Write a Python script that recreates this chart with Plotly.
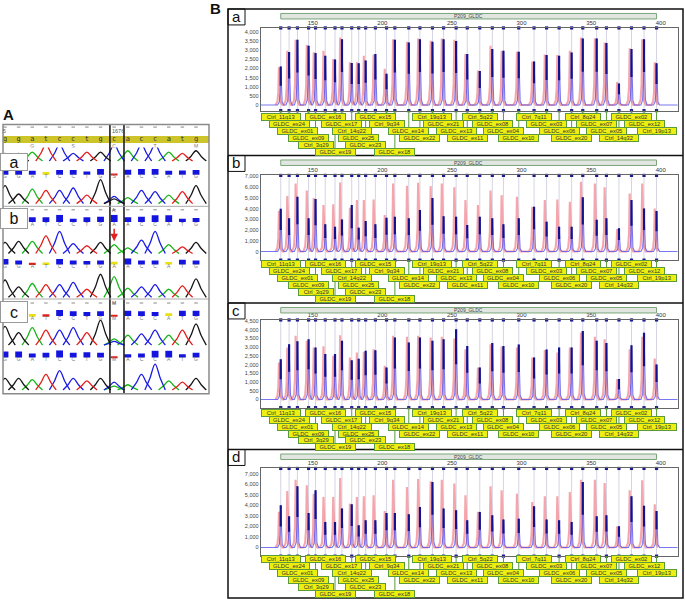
import plotly.graph_objects as go

W, H = 685, 603

# ---------------------------------------------------------------
# B: MLPA runs with probemix P209 GLDC (red = reference, blue = sample)
# ---------------------------------------------------------------
kit_name = "P209_GLDC"
probe_names = [
    "Ctrl_11q13", "GLDC_ex24", "GLDC_ex01", "GLDC_ex09", "Ctrl_3q29",
    "GLDC_ex16", "GLDC_ex19", "GLDC_ex17", "Ctrl_14q22", "GLDC_ex25",
    "GLDC_ex23", "GLDC_ex15", "Ctrl_9q34", "GLDC_ex18", "GLDC_ex14",
    "GLDC_ex22", "Ctrl_19q13", "GLDC_ex21", "GLDC_ex13", "GLDC_ex11",
    "Ctrl_5q22", "GLDC_ex08", "GLDC_ex04", "GLDC_ex10", "Ctrl_7q11",
    "GLDC_ex03", "GLDC_ex06", "GLDC_ex20", "Ctrl_8q24", "GLDC_ex07",
    "GLDC_ex05", "Ctrl_14q32", "GLDC_ex02", "GLDC_ex12", "Ctrl_19p13",
]
probe_size = [127, 133, 139, 147, 152, 159, 166, 171, 178, 183,
              188, 195, 203, 209, 219, 227, 236, 244, 253, 261,
              270, 279, 287, 298, 309, 318, 327, 336, 344, 354,
              361, 370, 379, 388, 397]
size_ticks = [150, 200, 250, 300, 350, 400]

ref_a = [2070, 2970, 3570, 3280, 2880, 2970, 2520, 3690, 2340, 2340, 2700, 2760, 1980, 3600, 3460, 3640, 3510, 3640,
         3570, 2790, 1890, 3240, 2970, 2920, 2380, 2760, 2740, 2970, 3690, 3640, 3420, 1260, 3100, 3600, 2340]
smp_a = [2100, 2900, 3570, 3240, 2850, 2700, 2490, 3600, 2300, 2290, 2430, 2790, 1710, 3570, 3420, 3600, 3460, 3600,
         3510, 2790, 1860, 3060, 2970, 2920, 2380, 2740, 2700, 2880, 3640, 3640, 3390, 1170, 3060, 3600, 2290]
ref_b = [3800, 5190, 6350, 5700, 5000, 4330, 4400, 6440, 4090, 4800, 4800, 4860, 3400, 6350, 6130, 6410, 6100, 6350,
         6000, 4800, 4330, 5700, 5260, 5110, 4180, 4800, 4860, 4640, 6500, 6350, 6000, 2100, 5420, 6350, 4020]
smp_b = [4000, 3100, 5110, 3100, 4900, 2540, 2320, 3000, 4330, 2230, 2850, 2540, 3150, 3250, 3100, 3870, 5000, 3300,
         3250, 2480, 3250, 3100, 2540, 3100, 4180, 2790, 2320, 2320, 5060, 2970, 3100, 2170, 4800, 4020, 3780]
ref_c = [2120, 2980, 3650, 3360, 2980, 3050, 2500, 3680, 2400, 2690, 2730, 2880, 1930, 3650, 3590, 3650, 3550, 3600,
         3490, 2880, 1830, 3170, 3030, 2980, 2400, 2840, 2690, 2980, 3840, 3600, 3450, 1170, 2880, 3600, 2350]
smp_c = [2310, 3170, 3340, 3450, 2980, 2600, 2600, 3360, 2250, 2330, 2790, 2820, 1830, 3550, 3270, 3550, 3360, 3450,
         4030, 3070, 1830, 3240, 3070, 3150, 2400, 2860, 2980, 2980, 3930, 3360, 3240, 1170, 3110, 3820, 2000]
ref_d = [3380, 5360, 6430, 5900, 5110, 4800, 4800, 6590, 4160, 4800, 4860, 4950, 3470, 6430, 5740, 6500, 6280, 6430,
         6060, 4950, 3380, 5800, 5430, 5110, 4320, 4860, 4860, 5270, 6430, 6430, 6120, 2020, 5430, 6370, 4100]
smp_d = [4000, 2970, 5800, 3280, 5430, 2430, 2430, 3690, 4100, 2110, 2590, 2590, 3280, 3280, 3150, 3850, 6210, 3690,
         3530, 2590, 3380, 3060, 2650, 2740, 3910, 2650, 2590, 2430, 6210, 2970, 3060, 2020, 4860, 3970, 3470]

# ---------------------------------------------------------------
# A: Sanger traces around c.1676
# ---------------------------------------------------------------
ref_seq = "ggatcctgcaccatg"
amino_pos = [2, 5, 8, 11, 14]
amino_acids = ["G", "S", "C", "T", "M"]
trace_calls = ["GGATCCTGCACCATG", "GGATCCTGCACCATG", "GGATCCTGAACCATG",
               "GGATCCTGAACCATG", "GGATCCTGAACCATG", "GGATCCTGCACCATG"]
trace_heights = [
    [0.6, 0.6, 0.7, 1.3, 1.3, 0.6, 0.7, 0.7, 1.3, 0.8, 1.3, 1.3, 0.7, 0.6, 0.8],
    [0.75, 0.4, 0.6, 0.55, 0.55, 0.65, 0.35, 1.0, 0.3, 0.25, 0.55, 0.5, 0.35, 0.5, 0.75],
    [0.5, 0.55, 0.55, 0.8, 1.0, 0.45, 0.35, 0.5, 0.4, 0.25, 0.6, 1.0, 0.4, 0.3, 0.5],
    [0.75, 0.45, 0.6, 0.55, 0.55, 0.65, 0.35, 1.0, 0.9, 0.4, 0.45, 0.55, 0.35, 0.5, 0.8],
    [0.75, 0.5, 0.7, 0.6, 0.6, 0.7, 0.5, 1.0, 0.25, 0.4, 0.45, 0.6, 0.4, 0.6, 0.85],
    [0.45, 0.45, 0.4, 0.6, 0.75, 0.45, 0.35, 0.45, 0.3, 0.2, 0.6, 1.0, 0.35, 0.3, 0.45],
]
trace_extra = [[], [(8, "G", 0.2)], [], [], [(8, "C", 0.15)], [(8, "A", 0.15)]]
call_text = ["GGATCCTGSACCATG", "GGATCCTGAACCATG", "GGATCCTGAACCATG",
             "GGATCCTGMACCATG", "GGATCCTGMACCATG"]
call_quality = [
    [12, 12, 12, 8, 14, 14, 10, 17, 4, 15, 17, 17, 12, 13, 14],
    [14, 14, 14, 14, 22, 10, 14, 16, 22, 14, 16, 20, 20, 10, 12],
    [16, 12, 5, 6, 16, 12, 10, 12, 8, 18, 12, 12, 7, 14, 12],
    [14, 14, 6, 5, 18, 14, 12, 14, 2, 16, 14, 12, 8, 16, 16],
    [18, 18, 12, 14, 22, 14, 16, 14, 2, 10, 12, 20, 20, 10, 14],
]


def fy(p):
    return 1 - p / H


def dom_y(top, bottom):
    return [1 - bottom / H, 1 - top / H]


def text_note(text, x, y, xref="paper", size=6, color="#444", **kw):
    d = dict(text=text, x=x, xref=xref, y=y, yref="paper", showarrow=False,
             xanchor="center", yanchor="middle", font=dict(size=size, color=color))
    d.update(kw)
    return d


def label_width(name):
    w = 3
    for ch in name:
        if ch.isupper():
            w += 4.8
        elif ch.isdigit():
            w += 3.2
        else:
            w += 3.4
    return w


fig = go.Figure()
lay = dict(width=W, height=H, margin=dict(l=0, r=0, t=0, b=0),
           paper_bgcolor="white", plot_bgcolor="white", showlegend=False,
           font=dict(family="Liberation Sans, Arial", color="#222"))
shapes, annots = [], []

# ---------------- panel A ----------------
cols = list(range(15))
lay["xaxis"] = dict(domain=[3 / W, 209 / W], range=[-0.147, 14.95], visible=False, anchor="y")
lay["yaxis"] = dict(domain=dom_y(123, 393), range=[393, 123], visible=False, anchor="x")

strip_px = [(146, 160), (177, 203), (229, 253), (272, 297), (318, 345), (362, 390)]
bar_px = [173.3, 220.7, 263.3, 315, 356.7]
hidden_cols = [0, 2, 0, 2, 0]   # first columns of a call row sitting under the a/b/c boxes
base_color = {"A": "#18b418", "C": "#1c1ce6", "G": "#151515", "T": "#e51c1c"}
chrom_dx = [-0.75, -0.38, 0, 0.38, 0.75]
chrom_fy = [0, 0.45, 1, 0.45, 0]

for i in range(6):
    lay[f"yaxis{i + 2}"] = dict(domain=dom_y(*strip_px[i]), range=[-0.03, 1.05],
                               visible=False, anchor="x")
    peaks = [(k, b, h) for k, (b, h) in enumerate(zip(trace_calls[i], trace_heights[i]))] + trace_extra[i]
    for base, colr in base_color.items():
        xs, ys = [], []
        for k, b, h in peaks:
            if b != base:
                continue
            xs += [k + d for d in chrom_dx] + [None]
            ys += [h * f for f in chrom_fy] + [None]
        fig.add_trace(go.Scatter(x=xs, y=ys, mode="lines", xaxis="x", yaxis=f"y{i + 2}",
                                 line=dict(color=colr, width=1.3, shape="spline"),
                                 hoverinfo="skip"))


def qual_color(q):
    if q <= 5:
        return "#e0201c"
    if q <= 8:
        return "#e8e010"
    return "#1414e0"


for i in range(5):
    b = bar_px[i]
    lay[f"yaxis{i + 8}"] = dict(domain=dom_y(b - 22 / 3, b + 4), range=[-12, 22],
                               visible=False, anchor="x")
    fig.add_trace(go.Bar(x=cols, y=call_quality[i], width=0.5, xaxis="x", yaxis=f"y{i + 8}",
                         marker=dict(color=[qual_color(q) for q in call_quality[i]], line_width=0),
                         hoverinfo="skip"))
    n0 = hidden_cols[i]
    fig.add_trace(go.Scatter(x=cols[n0:], y=[-7] * (15 - n0), text=list(call_text[i])[n0:], mode="text",
                             xaxis="x", yaxis=f"y{i + 8}", cliponaxis=False,
                             textfont=dict(size=5, color="#777"), hoverinfo="skip"))

# ruler dots, reference band, amino acids
for yy in (125.5, 208.5, 302):
    fig.add_trace(go.Scatter(x=cols, y=[yy] * 15, mode="markers", xaxis="x", yaxis="y",
                             marker=dict(symbol="line-ew", size=2.5, line=dict(width=1, color="#888")),
                             hoverinfo="skip"))
shapes.append(dict(type="rect", xref="paper", yref="paper", x0=3 / W, x1=209 / W,
                   y0=fy(141.5), y1=fy(134.5), fillcolor="#cdc42a", line_width=0, layer="below"))
fig.add_trace(go.Scatter(x=cols, y=[138.2] * 15, text=list(ref_seq), mode="text", xaxis="x", yaxis="y",
                         textfont=dict(size=7, color="#333", family="DejaVu Sans Mono"),
                         cliponaxis=False, hoverinfo="skip"))
fig.add_trace(go.Scatter(x=amino_pos, y=[144.8] * 5, text=amino_acids, mode="text", xaxis="x", yaxis="y",
                         textfont=dict(size=5, color="#777"), cliponaxis=False, hoverinfo="skip"))
annots += [
    text_note("5", -0.05, fy(129.5), xref="x", size=5, color="#555"),
    text_note("1676", 8.3, fy(129.5), xref="x", size=5.5, color="#555"),
    text_note("A", 8, fy(209), xref="x", size=5, color="#555"),
    text_note("M", 8, fy(302.5), xref="x", size=5, color="#555"),
    dict(text="", x=8, xref="x", y=fy(240), yref="paper", ax=0, ay=-14, showarrow=True,
         arrowhead=2, arrowsize=1, arrowwidth=1.5, arrowcolor="#e02020"),
]
for letter, top, bot in (("a", 152, 170), ("b", 207, 228), ("c", 300, 322)):
    annots.append(text_note(letter, 0, fy((top + bot) / 2), size=16, color="#111",
                            xanchor="left", width=26, height=bot - top - 2, bgcolor="white",
                            bordercolor="#999", borderwidth=1, borderpad=0))
for xc in (7.69, 8.72):
    shapes.append(dict(type="line", xref="x", yref="paper", x0=xc, x1=xc, y0=fy(393), y1=fy(123),
                       line=dict(color="#111", width=1.5)))
for yy in (205, 298):
    shapes.append(dict(type="line", xref="paper", yref="paper", x0=3 / W, x1=209 / W, y0=fy(yy), y1=fy(yy),
                       line=dict(color="#aaa", width=1)))
shapes.append(dict(type="rect", xref="paper", yref="paper", x0=3 / W, x1=209 / W, y0=fy(393), y1=fy(123),
                   line=dict(color="#8a8a8a", width=1.5)))
annots.append(text_note("<b>A</b>", 8.5 / W, fy(113), size=15, color="#111"))

# ---------------- panel B ----------------
panels = [
    dict(tag="a", top=7, y0=26, y1=109, yr=[-310, 4220], dtick=500, row1=115.7, ref=ref_a, smp=smp_a),
    dict(tag="b", top=154, y0=174, y1=259, yr=[-800, 7100], dtick=1000, row1=263.3, ref=ref_b, smp=smp_b),
    dict(tag="c", top=302, y0=319, y1=407, yr=[-470, 4560], dtick=500, row1=412.3, ref=ref_c, smp=smp_c),
    dict(tag="d", top=449, y0=468, y1=556, yr=[-820, 7500], dtick=1000, row1=559, ref=ref_d, smp=smp_d),
]
label_row = [1, 2, 3, 4, 5, 1, 6, 2, 3, 4, 5, 1, 2, 6, 3, 4, 1, 2, 3, 4,
             1, 2, 3, 4, 1, 2, 3, 4, 1, 2, 3, 4, 1, 2, 3]
x_range = [112.6, 412.2]
peak_dx = [-2.2, -1.0, -0.4, 0, 0.4, 1.0, 2.2]
peak_fy = [0, 0.08, 0.32, 1, 0.32, 0.08, 0]


def peak_path(offset, heights, ends, spread=1.0):
    xs, ys = [], []
    if ends:
        xs.append(x_range[0]); ys.append(0)
    for p, h in zip(probe_size, heights):
        for d, f in zip(peak_dx, peak_fy):
            xs.append(p + offset + d * spread); ys.append(h * f)
    if ends:
        xs.append(x_range[1]); ys.append(0)
    return xs, ys


for i, pn in enumerate(panels):
    xa, ya = f"x{i + 2}", f"y{i + 13}"
    axis_style = dict(showline=True, mirror=True, linecolor="#666", linewidth=1, showgrid=False,
                      zeroline=False, ticks="")
    lay[f"xaxis{i + 2}"] = dict(domain=[260.7 / W, 677.7 / W], range=x_range, side="top", anchor=ya,
                               tickvals=size_ticks, tickfont=dict(size=6, color="#333"), **axis_style)
    lay[f"yaxis{i + 13}"] = dict(domain=dom_y(pn["y0"], pn["y1"]), range=pn["yr"], anchor=xa,
                                dtick=pn["dtick"], tick0=0, tickformat=",d",
                                tickfont=dict(size=5.5, color="#444"), **axis_style)

    for p in probe_size:
        shapes.append(dict(type="line", xref=xa, yref=f"{ya} domain", x0=p, x1=p, y0=0, y1=1,
                           line=dict(color="#d4d4e4", width=1), layer="below"))

    rx, ry = peak_path(-1.3, pn["ref"], False, spread=1.15)
    fig.add_trace(go.Scatter(x=rx, y=ry, mode="lines", xaxis=xa, yaxis=ya, hoverinfo="skip",
                             line=dict(color="rgba(238,105,115,0.6)", width=2.1)))
    bx, by = peak_path(0, pn["smp"], True)
    fig.add_trace(go.Scatter(x=bx, y=by, mode="lines", xaxis=xa, yaxis=ya, hoverinfo="skip",
                             line=dict(color="rgba(85,85,238,0.8)", width=1.1)))
    sx, sy = [], []
    for p, h in zip(probe_size, pn["smp"]):
        sx += [p, p, None]
        sy += [0.5 * h, h, None]
    fig.add_trace(go.Scatter(x=sx, y=sy, mode="lines", xaxis=xa, yaxis=ya, hoverinfo="skip",
                             line=dict(color="#12128c", width=2.2)))
    fig.add_trace(go.Scatter(x=probe_size + probe_size,
                             y=[pn["yr"][1]] * len(probe_size) + [pn["yr"][0]] * len(probe_size),
                             mode="markers", xaxis=xa, yaxis=ya, cliponaxis=False, hoverinfo="skip",
                             marker=dict(symbol="square", size=3.2, color="#1c1c90")))

    # probe label boxes
    for p, name, r in zip(probe_size, probe_names, label_row):
        yc = pn["row1"] + (r - 1) * 6.9
        shapes.append(dict(type="line", xref=xa, yref="paper", x0=p, x1=p, y0=fy(pn["y1"]), y1=fy(yc),
                           line=dict(color="#5a9a3a", width=1)))
        annots.append(text_note(name, p, fy(yc), xref=xa, size=5.8, color="#333",
                                width=label_width(name), height=5.6, bgcolor="#eeee10",
                                bordercolor="#5a9a3a", borderwidth=1, borderpad=0))

    # kit bar on top
    top = pn["top"]
    shapes.append(dict(type="rect", xref=xa, yref="paper", x0=probe_size[0], x1=probe_size[-1],
                       y0=fy(top + 10), y1=fy(top + 4.5), fillcolor="#e1e6e1",
                       line=dict(color="#7aa57a", width=1)))
    annots.append(text_note(kit_name, (probe_size[0] + probe_size[-1]) / 2, fy(top + 7.3),
                            xref=xa, size=5, color="#444"))
    # panel letter
    shapes.append(dict(type="rect", xref="paper", yref="paper", x0=228 / W, x1=245 / W,
                       y0=fy(top + 16), y1=fy(top), line=dict(color="#111", width=1)))
    annots.append(text_note(pn["tag"], 236.5 / W, fy(top + 7.5), size=15, color="#111"))

for yy in (154, 302, 449):
    shapes.append(dict(type="line", xref="paper", yref="paper", x0=228 / W, x1=683 / W, y0=fy(yy), y1=fy(yy),
                       line=dict(color="#111", width=1.5)))
shapes.append(dict(type="rect", xref="paper", yref="paper", x0=228 / W, x1=683 / W, y0=fy(598), y1=fy(7),
                   line=dict(color="#111", width=1.5)))
annots.append(text_note("<b>B</b>", 215 / W, fy(7), size=15, color="#111"))

lay["shapes"] = shapes
lay["annotations"] = annots
fig.update_layout(**lay)
fig.write_html("out.html", config={"displayModeBar": False},
               post_script="document.body.style.margin='0px';")
